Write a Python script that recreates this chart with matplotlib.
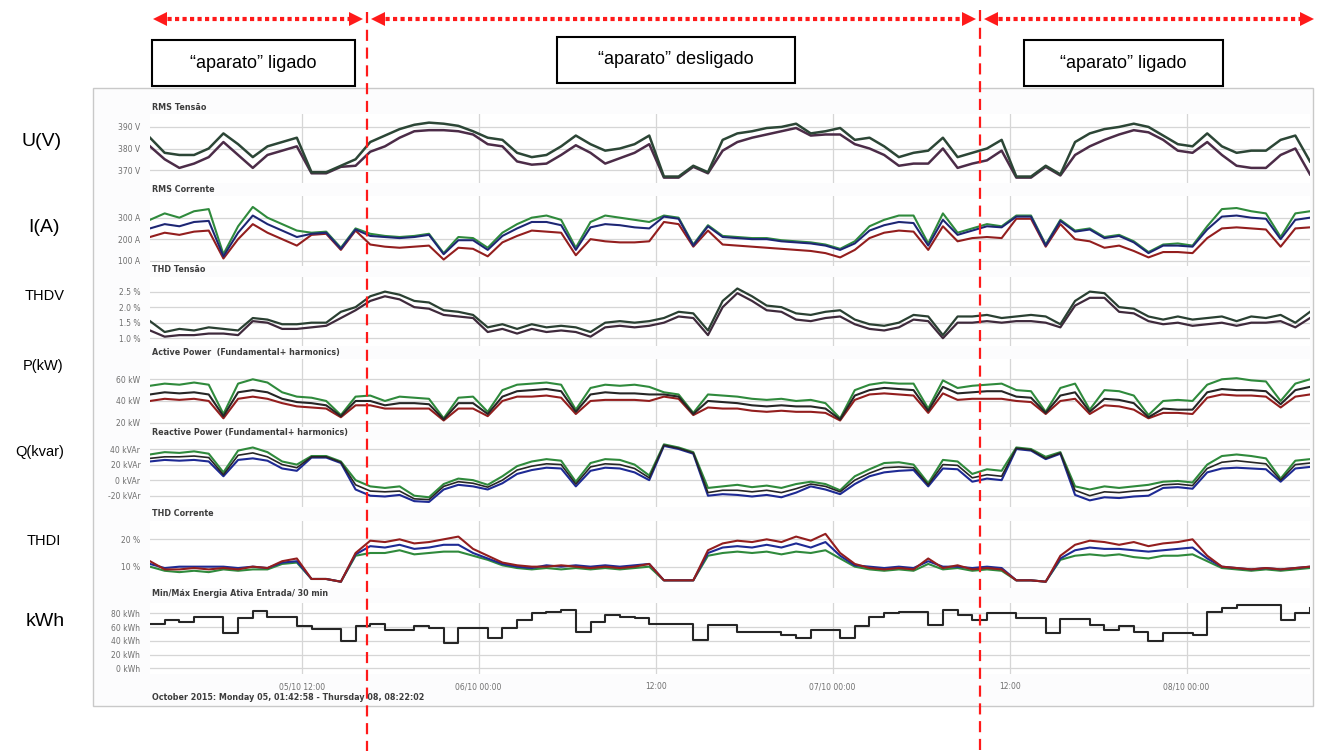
import numpy as np
import matplotlib
matplotlib.use("Agg")
import matplotlib.pyplot as plt
from matplotlib.transforms import blended_transform_factory
from matplotlib.patches import Rectangle
from matplotlib.colors import LinearSegmentedColormap

# ---------------- data (hours since 05/10/2015 00:00) ----------------
T_START = 1 + 42 / 60 + 58 / 3600          # Monday 05, 01:42:58
T_END = 72 + 8 + 22 / 60 + 2 / 3600         # Thursday 08, 08:22:02
N_SAMPLES = 80
hours = np.linspace(T_START, T_END, N_SAMPLES)

SWITCH_TIMES = [16.43, 58.0]                # red dashed separators
BOX_LABELS = ["\u201caparato\u201d ligado", "\u201caparato\u201d desligado", "\u201caparato\u201d ligado"]
ROW_LABELS = ["U(V)", "I(A)", "THDV", "P(kW)", "Q(kvar)", "THDI", "kWh"]
XTICKS = [12, 24, 36, 48, 60, 72]
XTICK_LABELS = ["05/10 12:00", "06/10 00:00", "12:00", "07/10 00:00", "12:00", "08/10 00:00"]
FOOTER = "October 2015: Monday 05, 01:42:58 - Thursday 08, 08:22:02"

volt_upper = [385, 378, 377, 377, 380, 387, 382, 376, 381, 383,
              385, 369, 369, 372, 375, 383, 386, 389, 391, 392,
              391.5, 390.5, 388, 385, 384, 378, 376, 377, 381, 386,
              382, 379, 380, 382, 386, 367, 367, 372, 369, 384,
              387, 388, 389.5, 390, 391.5, 387, 388, 389.5, 384, 385,
              381, 376, 378, 379, 385, 376, 378, 380, 384, 367,
              367, 372, 368, 383, 387, 389, 390, 391.5, 390, 386,
              382, 381, 387, 381, 378, 379, 379, 384, 386, 374]
volt_lower = [381, 375, 371, 373, 376, 383, 377, 371, 377, 379,
              381, 368.5, 368.5, 371.5, 372, 378.5, 381, 385, 388, 388.5,
              388.5, 388, 386.5, 382, 381, 374, 372.5, 373, 377, 381.5,
              378, 373, 375.5, 378, 382, 366.5, 366.5, 371.5, 368.5, 379,
              383, 385, 386.5, 388, 389.5, 386, 386.5, 386.5, 382, 380,
              377, 372, 373, 373, 380, 371, 373, 374.5, 379, 366.5,
              366.5, 371.5, 367.5, 377, 381, 384, 386.5, 388.5, 387.5, 384,
              379, 378, 383, 377, 372, 371, 371, 377, 380, 368]

cur_green = [290, 320, 300, 330, 340, 130, 260, 350, 300, 270,
             240, 230, 235, 160, 250, 225, 215, 210, 215, 225,
             135, 210, 205, 160, 230, 270, 300, 310, 290, 160,
             280, 310, 300, 290, 280, 310, 300, 175, 265, 215,
             210, 205, 205, 195, 190, 185, 175, 155, 190, 260,
             290, 310, 310, 180, 320, 230, 250, 270, 260, 310,
             310, 175, 290, 240, 250, 210, 220, 190, 140, 175,
             180, 170, 260, 340, 345, 330, 320, 210, 320, 330]
cur_blue = [250, 270, 260, 280, 285, 120, 230, 310, 270, 240,
            210, 225, 230, 155, 245, 215, 210, 205, 210, 220,
            130, 195, 195, 150, 215, 250, 280, 280, 265, 150,
            255, 270, 265, 255, 250, 305, 295, 170, 260, 210,
            205, 200, 200, 190, 185, 180, 170, 150, 180, 240,
            265, 280, 275, 170, 290, 220, 240, 260, 255, 305,
            305, 170, 285, 235, 245, 205, 215, 185, 135, 170,
            170, 165, 245, 305, 310, 300, 295, 200, 290, 300]
cur_red = [210, 230, 220, 235, 240, 110, 200, 270, 230, 200,
           170, 220, 225, 150, 240, 175, 165, 160, 165, 170,
           105, 160, 155, 120, 185, 215, 240, 235, 230, 125,
           200, 190, 185, 185, 190, 280, 270, 165, 240, 175,
           170, 165, 160, 155, 150, 145, 135, 115, 150, 205,
           230, 240, 235, 150, 260, 190, 205, 210, 205, 295,
           295, 165, 270, 200, 190, 160, 170, 145, 115, 140,
           140, 135, 205, 250, 255, 250, 245, 165, 250, 255]

thdv_upper = [1.55, 1.2, 1.3, 1.25, 1.35, 1.3, 1.25, 1.65, 1.6, 1.45,
              1.45, 1.5, 1.5, 1.85, 2.0, 2.35, 2.5, 2.4, 2.2, 2.15,
              1.9, 1.85, 1.75, 1.35, 1.45, 1.3, 1.45, 1.35, 1.4, 1.35,
              1.2, 1.5, 1.55, 1.5, 1.55, 1.65, 1.85, 1.8, 1.25, 2.2,
              2.6, 2.35, 2.05, 2.0, 1.8, 1.75, 1.85, 1.9, 1.6, 1.45,
              1.4, 1.5, 1.75, 1.7, 1.1, 1.7, 1.7, 1.75, 1.65, 1.7,
              1.75, 1.7, 1.45, 2.2, 2.5, 2.45, 2.0, 1.95, 1.7, 1.6,
              1.7, 1.6, 1.65, 1.7, 1.55, 1.7, 1.65, 1.75, 1.5, 1.85]
thdv_lower = [1.25, 1.05, 1.1, 1.1, 1.15, 1.15, 1.1, 1.55, 1.5, 1.3,
              1.3, 1.35, 1.4, 1.65, 1.9, 2.2, 2.35, 2.25, 2.0, 1.95,
              1.75, 1.7, 1.65, 1.2, 1.3, 1.15, 1.3, 1.2, 1.25, 1.2,
              1.05, 1.35, 1.4, 1.35, 1.4, 1.5, 1.7, 1.65, 1.1, 2.0,
              2.45, 2.2, 1.9, 1.85, 1.6, 1.55, 1.65, 1.7, 1.45, 1.3,
              1.25, 1.35, 1.6, 1.55, 1.0, 1.5, 1.5, 1.55, 1.5, 1.55,
              1.55, 1.5, 1.35, 2.05, 2.3, 2.3, 1.85, 1.8, 1.55, 1.45,
              1.5, 1.4, 1.45, 1.5, 1.4, 1.5, 1.5, 1.55, 1.35, 1.65]

p_green = [54, 56, 55, 57, 55, 28, 56, 60, 57, 48,
           44, 43, 40, 27, 44, 45, 40, 44, 43, 42,
           24, 43, 44, 30, 50, 55, 56, 57, 55, 32,
           52, 55, 54, 55, 53, 48, 46, 29, 46, 45,
           44, 42, 41, 42, 40, 41, 38, 24, 50, 55,
           57, 56, 56, 33, 59, 52, 54, 55, 56, 50,
           49, 30, 52, 56, 32, 50, 49, 45, 27, 40,
           41, 40, 55, 60, 61, 59, 58, 40, 56, 60]
p_blue = [46, 48, 47, 48, 46, 26, 48, 50, 48, 42,
          39, 38, 36, 26, 40, 40, 36, 38, 38, 37,
          23, 38, 38, 28, 44, 49, 50, 51, 49, 30,
          46, 48, 47, 47, 46, 46, 44, 28, 40, 39,
          38, 36, 35, 36, 35, 35, 33, 23, 45, 50,
          52, 51, 50, 31, 53, 47, 48, 49, 49, 44,
          43, 29, 45, 48, 30, 42, 41, 38, 25, 33,
          32, 32, 48, 51, 50, 50, 49, 37, 50, 53]
p_red = [40, 42, 41, 42, 40, 24, 42, 44, 42, 38,
         35, 34, 33, 25, 36, 36, 33, 33, 33, 33,
         22, 33, 33, 26, 40, 44, 44, 45, 43, 28,
         40, 41, 41, 41, 40, 44, 42, 27, 34, 33,
         33, 31, 30, 31, 30, 30, 29, 22, 41, 46,
         47, 46, 45, 29, 47, 41, 42, 42, 42, 40,
         39, 28, 40, 42, 28, 36, 35, 32, 24, 29,
         29, 28, 43, 46, 45, 45, 44, 34, 44, 46]

q_green = [33, 36, 35, 37, 34, 10, 38, 42, 36, 24,
           20, 31, 31, 24, 0, -8, -10, -8, -20, -22,
           -5, 2, 0, -6, 5, 18, 24, 27, 25, -2,
           22, 27, 26, 20, 6, 46, 42, 36, -10, -8,
           -6, -9, -7, -10, -5, -2, -5, -13, 5, 14,
           22, 23, 20, -4, 26, 24, 8, 14, 12, 42,
           40, 30, 36, -8, -12, -8, -10, -8, -6, -2,
           -1, -3, 20, 31, 33, 31, 28, 2, 25, 27]
q_blue = [24, 26, 25, 26, 24, 5, 26, 28, 25, 15,
          12, 29, 29, 22, -12, -20, -21, -19, -27, -28,
          -12, -6, -8, -12, -4, 8, 13, 16, 15, -8,
          12, 16, 15, 10, 0, 44, 40, 34, -20, -18,
          -19, -21, -19, -22, -16, -8, -12, -18, -5, 5,
          10, 12, 13, -8, 15, 14, -2, 2, 0, 40,
          38, 27, 34, -19, -26, -22, -23, -21, -20, -10,
          -9, -11, 10, 15, 16, 15, 14, -2, 15, 17]
q_black = [28, 30, 30, 31, 29, 7, 32, 35, 30, 20,
           16, 30, 30, 23, -6, -14, -15, -14, -24, -25,
           -8, -2, -4, -9, 0, 13, 18, 21, 20, -5,
           17, 21, 20, 15, 3, 45, 41, 35, -16, -13,
           -13, -15, -13, -16, -11, -5, -8, -15, 0, 9,
           16, 17, 16, -6, 20, 19, 3, 7, 5, 41,
           39, 28, 35, -13, -20, -15, -16, -14, -13, -6,
           -5, -7, 15, 23, 25, 23, 21, 0, 20, 22]

thdi_red = [12, 9, 9, 9.5, 9, 9.5, 9, 10, 9.5, 12,
            13, 5.5, 5.5, 4.5, 15, 19.5, 19, 20, 18.5, 19,
            20, 21, 16.5, 14, 11.5, 10.5, 10, 10, 10.5, 10,
            9.5, 10, 9.5, 10, 11, 5, 5, 5, 16, 18.5,
            19.5, 19, 20, 19, 21, 19.5, 22, 15, 11, 9.5,
            9, 9.5, 9, 13, 9.5, 10.5, 9, 9.5, 9, 5,
            5, 4.5, 14, 18, 19.5, 19, 18, 19, 17.5, 18.5,
            19, 20, 14, 10, 9.5, 9, 9.5, 9, 9.5, 10]
thdi_green = [10, 8.5, 8, 8.5, 8, 9, 8.5, 9, 9, 11,
              11.5, 5.5, 5.5, 4.5, 14, 15, 15, 16, 14.5, 15,
              15.5, 15.5, 14, 12.5, 10.5, 9.5, 9, 9.5, 9, 9.5,
              9, 9.5, 9, 9.5, 10, 5, 5, 5, 14, 15,
              15.5, 15, 15.5, 14.5, 15.5, 15, 16, 13, 10, 9,
              8.5, 9, 8.5, 11, 9, 9.5, 8.5, 9, 8.5, 5,
              5, 4.5, 12.5, 14, 14.5, 14, 14.5, 13.5, 13, 14,
              14, 14.5, 12, 9.5, 9, 8.5, 9, 8.5, 9, 9.5]
thdi_blue = [11, 9.5, 10, 10, 10, 10, 9.5, 10, 9.5, 11.5,
             12, 5.5, 5.5, 4.5, 14.5, 17.5, 17, 18, 16.5, 17,
             18, 18, 15, 13, 11, 10, 9.5, 10.5, 10, 10.5,
             10, 10.5, 10, 10.5, 11, 5, 5, 5, 15, 17,
             17.5, 17, 18, 17, 18.5, 17, 19, 14, 10.5, 10,
             9.5, 10, 9.5, 12, 10, 10, 9.5, 10, 9.5, 5,
             5, 4.5, 13, 16, 17, 16.5, 16.5, 16, 15.5, 16,
             16.5, 17, 13, 10, 9.5, 9, 9.5, 9, 9.5, 10]

energy_kwh = [65, 70, 68, 74, 74, 51, 73, 84, 74, 75,
              61, 57, 57, 40, 61, 64, 56, 56, 61, 59,
              37, 58, 58, 44, 58, 70, 80, 82, 85, 53,
              68, 77, 75, 73, 65, 65, 65, 41, 63, 63,
              53, 53, 53, 48, 44, 56, 56, 44, 61, 75,
              80, 82, 82, 63, 85, 77, 70, 80, 80, 73,
              73, 51, 71, 71, 63, 56, 61, 53, 39, 51,
              51, 48, 82, 87, 92, 92, 92, 70, 80, 87]

# ---------------- figure ----------------
W, H = 1318, 751
fig = plt.figure(figsize=(W / 100, H / 100), dpi=100)
fig.patch.set_facecolor("white")

bg = fig.add_axes([0, 0, 1, 1], zorder=0)
bg.set_xlim(0, W); bg.set_ylim(H, 0); bg.axis("off")
bg.add_patch(Rectangle((93, 88), 1220, 618, facecolor="#fcfcfd", edgecolor="#c9c9c9", lw=1.0))
grad = np.linspace(0, 1, 40).reshape(-1, 1)
cm_hdr = LinearSegmentedColormap.from_list("hdr", ["#c8cdea", "#e6e9f6", "#fcfcfd"])
bg.imshow(grad, cmap=cm_hdr, extent=(94, 1312, 120, 89), aspect="auto", interpolation="bilinear")
bg.set_xlim(0, W); bg.set_ylim(H, 0)

GREEN, BLUE, RED, DARK = "#2f8a3c", "#1e2a94", "#931e1e", "#262626"
TICK_COL = "#6f6f6f"

panels = [
    # top, bottom, ymin, ymax, ticks, labels, title, title_y
    (114, 183, 364, 396, [370, 380, 390], ["370 V", "380 V", "390 V"], "RMS Tens\u00e3o", 107),
    (196, 266, 75, 401, [100, 200, 300], ["100 A", "200 A", "300 A"], "RMS Corrente", 189),
    (277, 346, 0.75, 2.97, [1.0, 1.5, 2.0, 2.5], ["1.0 %", "1.5 %", "2.0 %", "2.5 %"], "THD Tens\u00e3o", 270),
    (359, 427, 16, 78.7, [20, 40, 60], ["20 kW", "40 kW", "60 kW"], "Active Power  (Fundamental+ harmonics)", 352),
    (440, 507, -34.5, 51.6, [-20, 0, 20, 40], ["-20 kVAr", "0 kVAr", "20 kVAr", "40 kVAr"],
     "Reactive Power (Fundamental+ harmonics)", 433),
    (521, 588, 2.2, 26.7, [10, 20], ["10 %", "20 %"], "THD Corrente", 514),
    (603, 674, -8.3, 95, [0, 20, 40, 60, 80], ["0 kWh", "20 kWh", "40 kWh", "60 kWh", "80 kWh"],
     "Min/M\u00e1x Energia Ativa Entrada/ 30 min", 594),
]

axes = []
for i, (top, bot, y0, y1, yt, ytl, title, ty) in enumerate(panels):
    ax = fig.add_axes([150 / W, 1 - bot / H, 1160 / W, (bot - top) / H], zorder=2)
    ax.set_facecolor("white")
    ax.set_xlim(T_START, T_END)
    ax.set_ylim(y0, y1)
    ax.set_yticks(yt)
    ax.set_yticklabels(ytl)
    ax.set_xticks(XTICKS)
    if i == len(panels) - 1:
        ax.set_xticklabels(XTICK_LABELS)
    else:
        ax.set_xticklabels([])
    ax.tick_params(axis="both", length=0, labelsize=5.5, labelcolor=TICK_COL)
    ax.tick_params(axis="y", pad=7)
    ax.tick_params(axis="x", pad=6)
    ax.grid(True, color="#d6d6d6", lw=0.9)
    ax.set_axisbelow(True)
    for s in ax.spines.values():
        s.set_visible(False)
    fig.text(152 / W, 1 - ty / H, title, fontsize=5.8, fontweight="bold", color="#3d3d3d",
             va="center", ha="left", zorder=5)
    axes.append(ax)

lw = 1.5
a = axes[0]
a.plot(hours, volt_lower, color="#4c2c48", lw=1.8)
a.plot(hours, volt_upper, color="#2c4636", lw=1.8)

a = axes[1]
a.plot(hours, cur_green, color=GREEN, lw=lw)
a.plot(hours, cur_red, color=RED, lw=lw)
a.plot(hours, cur_blue, color=BLUE, lw=lw)
a.plot(hours, cur_blue, color=DARK, lw=0.6, alpha=0.6)

a = axes[2]
a.plot(hours, thdv_lower, color="#3f2a3c", lw=1.6)
a.plot(hours, thdv_upper, color="#2a4032", lw=1.6)

a = axes[3]
a.plot(hours, p_green, color=GREEN, lw=lw)
a.plot(hours, p_red, color=RED, lw=lw)
a.plot(hours, p_blue, color=DARK, lw=lw)

a = axes[4]
a.plot(hours, q_green, color=GREEN, lw=lw)
a.plot(hours, q_blue, color=BLUE, lw=lw)
a.plot(hours, q_black, color=DARK, lw=1.2)

a = axes[5]
a.plot(hours, thdi_green, color=GREEN, lw=lw)
a.plot(hours, thdi_blue, color=BLUE, lw=lw)
a.plot(hours, thdi_red, color=RED, lw=lw)

a = axes[6]
a.plot(hours, energy_kwh, color=DARK, lw=1.5, drawstyle="steps-post")

# ---------------- front overlay: annotations ----------------
fr = fig.add_axes([0, 0, 1, 1], zorder=10)
fr.set_xlim(0, W); fr.set_ylim(H, 0); fr.axis("off")
fr.patch.set_alpha(0)
fr.set_autoscale_on(False)
tr = blended_transform_factory(axes[0].transData, fr.transData)

for t, ytop in zip(SWITCH_TIMES, [12, 10]):
    fr.plot([t, t], [ytop, H], transform=tr, color="#ff1a1a", lw=1.6, dashes=(5, 3), clip_on=False)

ARROW_Y = 19
gap = 0.3
head = 0.47
spans = [(T_START + 0.2, SWITCH_TIMES[0] - gap),
         (SWITCH_TIMES[0] + gap, SWITCH_TIMES[1] - gap),
         (SWITCH_TIMES[1] + gap, T_END + 0.3)]
for t0, t1 in spans:
    fr.plot([t0 + head, t1 - head], [ARROW_Y, ARROW_Y], transform=tr, color="#ff1a1a", lw=3,
            dashes=(1, 0.8), solid_capstyle="butt", dash_capstyle="butt", clip_on=False)
    fr.plot([t0 + head], [ARROW_Y], transform=tr, marker="<", ms=10, color="#ff1a1a",
            markeredgewidth=0, clip_on=False)
    fr.plot([t1 - head], [ARROW_Y], transform=tr, marker=">", ms=10, color="#ff1a1a",
            markeredgewidth=0, clip_on=False)

boxes = [(152, 40, 203, 46), (557, 37, 238, 46), (1024, 40, 199, 46)]
for (bx, by, bw, bh), lab in zip(boxes, BOX_LABELS):
    fr.add_patch(Rectangle((bx, by), bw, bh, facecolor="white", edgecolor="black", lw=1.5))
    fr.text(bx + bw / 2, by + bh / 2, lab, fontsize=13, family="Liberation Sans",
            ha="center", va="center", color="black")

row_pos = [(42, 141, 14), (44, 228, 14), (45, 296, 10.5), (43, 366, 10.5),
           (40, 452, 10.5), (44, 541, 10.5), (45, 622, 14)]
for (lx, ly, fs), lab in zip(row_pos, ROW_LABELS):
    fr.text(lx, ly, lab, fontsize=fs, family="Liberation Sans", ha="center", va="center", color="black")

fr.text(152, 698, FOOTER, fontsize=5.8, fontweight="bold", color="#3d3d3d", ha="left", va="center")

fig.savefig("out.png", dpi=100)
